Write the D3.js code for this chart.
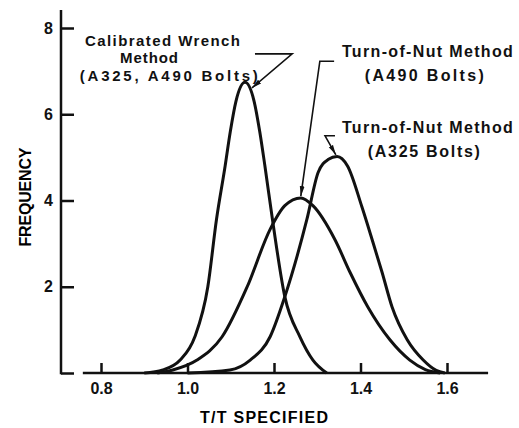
<!DOCTYPE html>
<html lang="en">
<head>
  <meta charset="UTF-8" />
  <title>Bolt Tension Distribution</title>
  <script src="https://d3js.org/d3.v7.min.js"></script>
  <style>
    body { margin: 0; background: white; }
    svg { display: block; font-family: "Liberation Sans", Arial, sans-serif; font-weight: bold; }
    .curve { fill: none; stroke: #111; stroke-width: 3; stroke-linejoin: round; }
    .axis path, .axis line { stroke: #111; stroke-width: 2.5; }
    .axis text { font-size: 16px; fill: #111; font-family: "Liberation Sans", Arial, sans-serif; font-weight: bold; }
    .leader { fill: none; stroke: #111; stroke-width: 1.6; }
    .note { fill: #111; }
  </style>
</head>
<body>
<svg width="519" height="428"></svg>
<script>
// T/T specified vs frequency
const xTicks = [0.8, 1.0, 1.2, 1.4, 1.6];
const yTicks = [0, 2, 4, 6, 8];

const wrench = [
  [0.900, 0], [0.943, 0.07], [0.983, 0.30], [1.017, 0.84], [1.047, 2.0],
  [1.067, 3.56], [1.087, 4.8], [1.099, 5.6], [1.112, 6.3], [1.133, 6.74],
  [1.154, 6.3], [1.167, 5.6], [1.179, 4.8], [1.198, 3.45], [1.225, 1.77],
  [1.260, 0.84], [1.290, 0.30], [1.322, 0]
];
const nutA490 = [
  [0.930, 0], [0.966, 0.07], [1.022, 0.30], [1.080, 0.84], [1.138, 2.0],
  [1.191, 3.33], [1.225, 3.88], [1.262, 4.06], [1.290, 3.88], [1.341, 3.09],
  [1.376, 2.33], [1.417, 1.53], [1.468, 0.77], [1.514, 0.30], [1.550, 0.08],
  [1.584, 0]
];
const nutA325 = [
  [1.000, 0], [1.098, 0.07], [1.145, 0.30], [1.191, 0.84], [1.225, 1.77],
  [1.276, 3.56], [1.302, 4.65], [1.325, 4.95], [1.346, 5.02], [1.370, 4.80],
  [1.403, 3.86], [1.427, 3.09], [1.450, 2.33], [1.473, 1.53], [1.508, 0.77],
  [1.545, 0.30], [1.575, 0.06], [1.595, 0]
];
const series = [wrench, nutA490, nutA325];

// labels and leader lines, placed in data units
const notes = [
  { size: 15, text: [["Calibrated Wrench", 0.763, 7.58, 155], ["Method", 0.844, 7.18, 58], ["(A325, A490 Bolts)", 0.751, 6.78, 178]],
    leader: [[1.156, 7.40], [1.242, 7.40], [1.149, 6.61]] },
  { size: 16, text: [["Turn-of-Nut Method", 1.357, 7.32, 171], ["(A490 Bolts)", 1.410, 6.76, 119]],
    leader: [[1.339, 7.23], [1.306, 7.23], [1.262, 4.10]] },
  { size: 16, text: [["Turn-of-Nut Method", 1.357, 5.57, 171], ["(A325 Bolts)", 1.417, 5.00, 112]],
    leader: [[1.341, 5.50], [1.318, 5.50], [1.343, 5.06]] }
];

const svg = d3.select("svg");
const x = d3.scaleLinear().domain([0.8, 1.6]).range([101, 447]);
const y = d3.scaleLinear().domain([0, 8]).range([373, 28]);

svg.append("defs").append("marker")
  .attr("id", "arrow").attr("viewBox", "0 0 10 6")
  .attr("refX", 10).attr("refY", 3)
  .attr("markerWidth", 10).attr("markerHeight", 6)
  .attr("markerUnits", "userSpaceOnUse")
  .attr("orient", "auto")
  .append("path").attr("d", "M0,0.6L10,3L0,5.4Z").attr("fill", "#111");

// y axis: ticks point inward, line runs above the 8 tick
const yAxis = svg.append("g").attr("class", "axis")
  .attr("transform", `translate(${x(0.8) - 40},0)`)
  .call(d3.axisLeft(y).tickValues(yTicks).tickSizeInner(-13).tickSizeOuter(0).tickPadding(8)
    .tickFormat(d => d === 0 ? "" : d));
yAxis.select(".domain").remove();
yAxis.append("line").attr("y1", y(0) + 1.2).attr("y2", y(8.42)).attr("stroke", "#111").attr("stroke-width", 2.5);

// x axis: detached baseline, ticks point up
const xAxis = svg.append("g").attr("class", "axis")
  .attr("transform", `translate(0,${y(0)})`)
  .call(d3.axisBottom(x).tickValues(xTicks).tickSizeInner(-10).tickSizeOuter(0).tickPadding(10)
    .tickFormat(d3.format(".1f")));
xAxis.select(".domain").remove();
xAxis.append("line").attr("x1", x(0.758)).attr("x2", x(1.695)).attr("stroke", "#111").attr("stroke-width", 2.5);

svg.append("text").attr("x", 264).attr("y", 423).attr("text-anchor", "middle")
  .attr("font-size", 16).attr("textLength", 128).attr("lengthAdjust", "spacing")
  .text("T/T SPECIFIED");
svg.append("text").attr("transform", "translate(31,197) rotate(-90)").attr("text-anchor", "middle")
  .attr("font-size", 16).attr("textLength", 99).attr("lengthAdjust", "spacing")
  .text("FREQUENCY");

const line = d3.line().x(d => x(d[0])).y(d => y(d[1])).curve(d3.curveMonotoneX);
svg.selectAll("path.curve").data(series).join("path")
  .attr("class", "curve").attr("d", line);

notes.forEach(n => {
  svg.append("path").attr("class", "leader")
    .attr("d", d3.line().x(d => x(d[0])).y(d => y(d[1]))(n.leader))
    .attr("marker-end", "url(#arrow)");
  n.text.forEach(t => {
    svg.append("text").attr("class", "note")
      .attr("font-size", n.size)
      .attr("x", x(t[1])).attr("y", y(t[2]))
      .attr("textLength", t[3]).attr("lengthAdjust", "spacing")
      .text(t[0]);
  });
});
</script>
</body>
</html>
